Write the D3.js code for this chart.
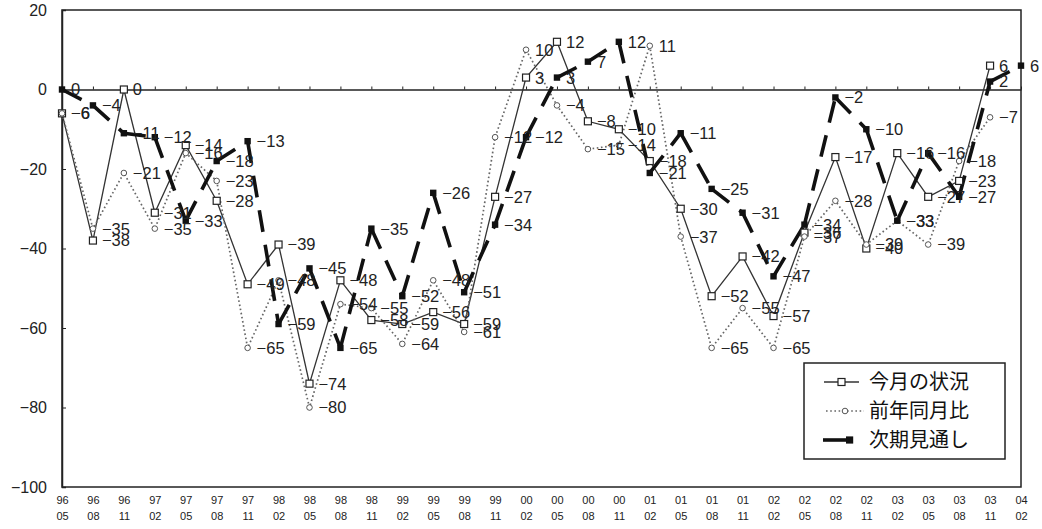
<!DOCTYPE html>
<html><head><meta charset="utf-8">
<script src="https://cdn.jsdelivr.net/npm/d3@7"></script>
<style>
body{margin:0;background:#fff;}
svg{display:block;}
</style></head><body>
<svg id="chart" width="1042" height="529"></svg>
<script>
// ---- data ----
const years  = ["96","96","96","97","97","97","97","98","98","98","98","99","99","99","99","00","00","00","00","01","01","01","01","02","02","02","02","03","03","03","03","04"];
const months = ["05","08","11","02","05","08","11","02","05","08","11","02","05","08","11","02","05","08","11","02","05","08","11","02","05","08","11","02","05","08","11","02"];
const kongetsu = [-6,-38,0,-31,-14,-28,-49,-39,-74,-48,-58,-59,-56,-59,-27,3,12,-8,-10,-18,-30,-52,-42,-57,-36,-17,-40,-16,-27,-23,6,null];
const zennen   = [-6,-35,-21,-35,-16,-23,-65,-48,-80,-54,-55,-64,-48,-61,-12,10,-4,-15,-14,11,-37,-65,-55,-65,-37,-28,-39,-33,-39,-18,-7,null];
const jiki     = [0,-4,-11,-12,-33,-18,-13,-59,-45,-65,-35,-52,-26,-51,-34,-12,3,7,12,-21,-11,-25,-31,-47,-34,-2,-10,-33,-16,-27,2,6];
const yTicks = [-100,-80,-60,-40,-20,0,20];
const seriesNames = ["今月の状況","前年同月比","次期見通し"];

// ---- layout ----
const svg = d3.select("#chart");
const L = 62, R = 1021, T = 10, B = 487;
const idx = d3.range(years.length);
const x = d3.scalePoint().domain(idx).range([L, R]);
const y = d3.scaleLinear().domain([-100, 20]).range([B, T]);
const fmt = d3.format("d");
const labFont = "'Liberation Sans', Arial, sans-serif";

// frame
svg.append("rect").attr("x", L).attr("y", T).attr("width", R - L).attr("height", B - T)
  .attr("fill", "none").attr("stroke", "#222").attr("stroke-width", 1.5);

// y axis
const ya = svg.append("g").attr("transform", `translate(${L},0)`)
  .call(d3.axisLeft(y).tickValues(yTicks).tickSize(-4).tickPadding(15).tickFormat(fmt));
ya.select(".domain").attr("stroke", "#222").attr("stroke-width", 1.5);
ya.selectAll(".tick line").attr("stroke", "#222");
ya.selectAll(".tick text").attr("font-family", labFont).attr("font-size", 16).attr("fill", "#222");

// zero line with category ticks
const za = svg.append("g").attr("transform", `translate(0,${y(0)})`)
  .call(d3.axisTop(x).tickSize(3).tickSizeOuter(0).tickFormat(() => ""));
za.select(".domain").attr("stroke", "#222").attr("stroke-width", 1.4);
za.selectAll(".tick line").attr("stroke", "#222");

// bottom category labels (two lines)
const xa = svg.append("g").attr("transform", `translate(0,${B})`)
  .call(d3.axisBottom(x).tickSize(0).tickSizeOuter(0).tickPadding(9).tickFormat(i => years[i]));
xa.select(".domain").remove();
xa.selectAll(".tick text").each(function(i) {
  const t = d3.select(this);
  t.text(null).attr("font-family", labFont).attr("font-size", 11).attr("fill", "#222");
  t.append("tspan").attr("x", 0).attr("dy", "0.71em").text(years[i]);
  t.append("tspan").attr("x", 0).attr("dy", "1.45em").text(months[i]);
});

// ---- series ----
const pts = arr => idx.map(i => ({i, v: arr[i]})).filter(d => d.v !== null);
const line = d3.line().x(d => x(d.i)).y(d => y(d.v));

// 今月の状況 - thin solid
svg.append("path").datum(pts(kongetsu)).attr("d", line)
  .attr("fill", "none").attr("stroke", "#333").attr("stroke-width", 1.3);
// 前年同月比 - dotted
svg.append("path").datum(pts(zennen)).attr("d", line)
  .attr("fill", "none").attr("stroke", "#666").attr("stroke-width", 1.7)
  .attr("stroke-dasharray", "1.6,2.6");
// 次期見通し - thick dashed (pattern per segment)
const jp = pts(jiki);
const segs = d3.pairs(jp);
svg.append("g").selectAll("path").data(segs).join("path")
  .attr("d", d => line(d))
  .attr("fill", "none").attr("stroke", "#111").attr("stroke-width", 3.6)
  .attr("stroke-dasharray", "22,13");

// markers
svg.append("g").selectAll("rect").data(pts(kongetsu)).join("rect")
  .attr("x", d => x(d.i) - 3.5).attr("y", d => y(d.v) - 3.5).attr("width", 7).attr("height", 7)
  .attr("fill", "#fff").attr("stroke", "#222").attr("stroke-width", 1.2);
svg.append("g").selectAll("circle").data(pts(zennen)).join("circle")
  .attr("cx", d => x(d.i)).attr("cy", d => y(d.v)).attr("r", 2.8)
  .attr("fill", "#fff").attr("stroke", "#555").attr("stroke-width", 1);
svg.append("g").selectAll("rect").data(jp).join("rect")
  .attr("x", d => x(d.i) - 3.2).attr("y", d => y(d.v) - 3.2).attr("width", 6.4).attr("height", 6.4)
  .attr("fill", "#111");

// data labels
[kongetsu, zennen, jiki].forEach(arr => {
  svg.append("g").selectAll("text").data(pts(arr)).join("text")
    .attr("x", d => x(d.i) + 9).attr("y", d => y(d.v)).attr("dy", "0.36em")
    .attr("font-family", labFont).attr("font-size", 16.5).attr("fill", "#222")
    .text(d => fmt(d.v));
});

// ---- legend ----
const lg = svg.append("g");
lg.append("rect").attr("x", 804).attr("y", 363).attr("width", 201).attr("height", 96)
  .attr("fill", "#fff").attr("stroke", "#222").attr("stroke-width", 1.5);
const rowsY = [382, 411, 440];
// row 1
lg.append("line").attr("x1", 824).attr("x2", 859).attr("y1", rowsY[0]).attr("y2", rowsY[0])
  .attr("stroke", "#333").attr("stroke-width", 1.3);
lg.append("rect").attr("x", 838).attr("y", rowsY[0] - 3.5).attr("width", 7).attr("height", 7)
  .attr("fill", "#fff").attr("stroke", "#222").attr("stroke-width", 1.2);
// row 2
lg.append("line").attr("x1", 826).attr("x2", 864).attr("y1", rowsY[1]).attr("y2", rowsY[1])
  .attr("stroke", "#666").attr("stroke-width", 1.7).attr("stroke-dasharray", "1.6,2.6");
lg.append("circle").attr("cx", 845).attr("cy", rowsY[1]).attr("r", 2.8)
  .attr("fill", "#fff").attr("stroke", "#555").attr("stroke-width", 1);
// row 3
lg.append("line").attr("x1", 823).attr("x2", 850).attr("y1", rowsY[2]).attr("y2", rowsY[2])
  .attr("stroke", "#111").attr("stroke-width", 3.6);
lg.append("rect").attr("x", 846).attr("y", rowsY[2] - 3.6).attr("width", 7.2).attr("height", 7.2)
  .attr("fill", "#111");
lg.selectAll("text.lt").data(seriesNames).join("text").attr("class", "lt")
  .attr("x", 869).attr("y", (d, i) => rowsY[i]).attr("dy", "0.36em")
  .attr("font-family", "'Noto Sans CJK JP', sans-serif").attr("font-size", 20).attr("fill", "#111")
  .text(d => d);
</script>
</body></html>
